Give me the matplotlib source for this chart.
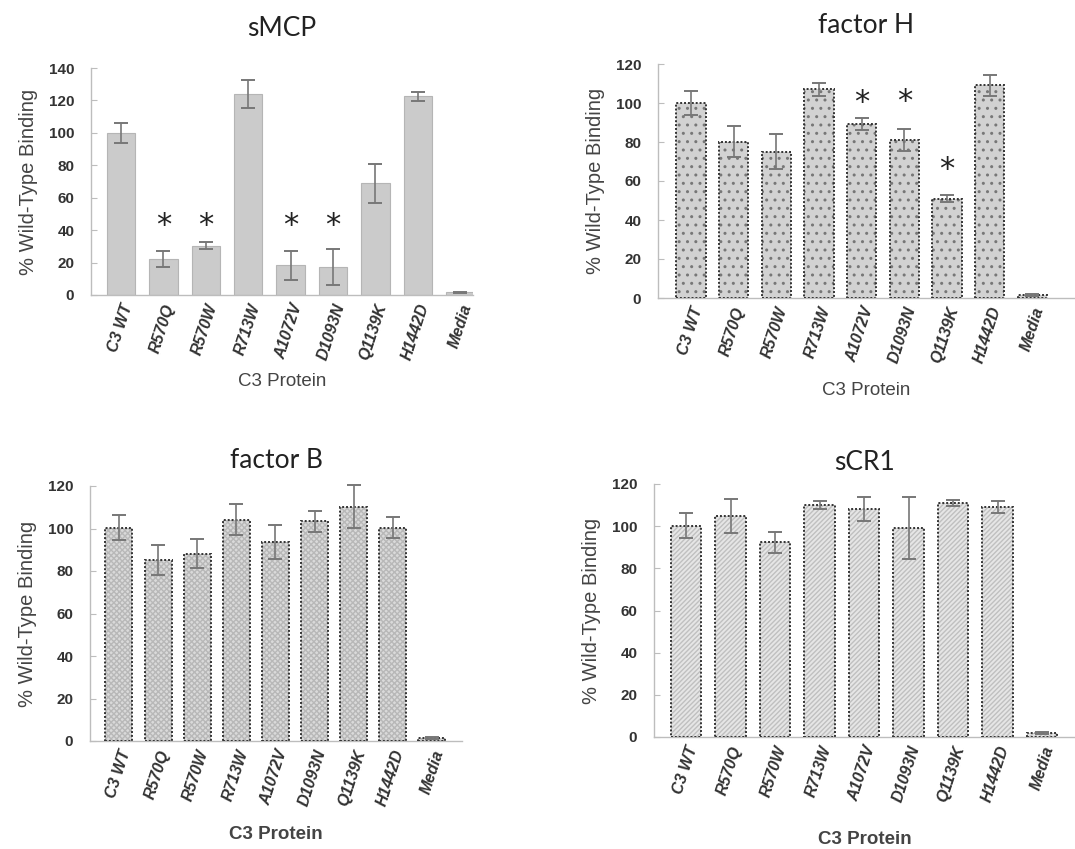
import numpy as np
import matplotlib
matplotlib.use("Agg")
import matplotlib.pyplot as plt

# data
proteins = ["C3 WT", "R570Q", "R570W", "R713W", "A1072V", "D1093N", "Q1139K", "H1442D", "Media"]

smcp_val = [100, 22.4, 30.4, 123.8, 18.3, 17.3, 69, 122.5, 1.6]
smcp_err = [6, 5, 2, 8.5, 9, 11, 12, 3, 0.5]
smcp_star = [1, 2, 4, 5]

fh_val = [100, 80.2, 75, 107, 89.3, 81, 51, 109, 1.7]
fh_err = [6, 8, 9, 3.5, 3, 5.5, 2, 5.5, 0.5]
fh_star = [4, 5, 6]

fb_val = [100.4, 85.3, 88.2, 104.2, 93.5, 103.4, 110.3, 100.4, 1.6]
fb_err = [6, 7, 7, 7.3, 8, 5, 10, 5, 0.5]

cr1_val = [100.2, 104.8, 92.3, 110, 108.1, 99.2, 111, 109, 1.9]
cr1_err = [6, 8, 5, 1.8, 5.8, 14.7, 1.6, 2.8, 0.5]

W, H = 1075, 849
fig = plt.figure(figsize=(W / 100, H / 100), dpi=100)

tick_font = "Liberation Sans"
title_font = "Lato"


def panel(px, title, vals, errs, ymax, xlim, hatch=None, face="#cbcbcb",
          hatch_col="#888888", stars=None, star_y=None, bold_xlabel=False,
          title_pad=18, xlab_pad=12):
    # px = (left, top, right, bottom) in pixels of the figure
    l, t, r, b = px
    ax = fig.add_axes([l / W, 1 - b / H, (r - l) / W, (b - t) / H])
    x = np.arange(len(vals))
    if hatch is None:
        ax.bar(x, vals, width=0.67, color=face, edgecolor="#b5b5b5", linewidth=0.8, zorder=2)
    else:
        ax.bar(x, vals, width=0.69, color=face, linewidth=0, zorder=2)
        ax.bar(x, vals, width=0.69, color="none", edgecolor=hatch_col, hatch=hatch,
               linewidth=0, zorder=3)
        ax.bar(x, vals, width=0.69, color="none", edgecolor="#333333",
               linewidth=1.4, linestyle=(0, (1, 1)), zorder=4)
    eb = ax.errorbar(x, vals, yerr=errs, fmt="none", ecolor="#777777", elinewidth=1.2,
                     capsize=5, capthick=1.4, zorder=5)
    for c in eb[1]:
        c.set_color("#222222")
        c.set_clip_on(False)
    for c in eb[2]:
        c.set_clip_on(False)
    if stars:
        for i, sy in zip(stars, star_y):
            ax.text(i, sy, "*", ha="center", va="center", fontsize=22,
                    family="DejaVu Sans", color="#222222")
    ax.set_xlim(*xlim)
    ax.set_ylim(0, ymax)
    ax.set_yticks(np.arange(0, ymax + 1, 20))
    for s in ["top", "right"]:
        ax.spines[s].set_visible(False)
    for s in ["left", "bottom"]:
        ax.spines[s].set_color("#bdbdbd")
        ax.spines[s].set_linewidth(1.0)
    ax.tick_params(axis="y", direction="in", length=4, color="#bdbdbd", pad=12,
                   labelsize=11)
    ax.tick_params(axis="x", length=0, pad=5, labelsize=11.5)
    ax.set_xticks(x)
    ax.set_xticklabels(proteins, rotation=72, ha="right", va="top",
                       rotation_mode="anchor", family=tick_font, style="italic",
                       fontweight="bold", color="#333333")
    for lab in ax.get_yticklabels():
        lab.set_family(tick_font)
        lab.set_fontweight("bold")
        lab.set_color("#333333")
    ax.set_ylabel("% Wild-Type Binding", family=tick_font, fontsize=14.5,
                  color="#444444", labelpad=8)
    ax.set_xlabel("C3 Protein", family=tick_font, fontsize=13.5, color="#444444",
                  fontweight="bold" if bold_xlabel else "normal", labelpad=xlab_pad)
    ax.set_title(title, family=title_font, fontsize=19, color="#222222", pad=title_pad)
    return ax


panel((91, 68, 473, 295), "sMCP", smcp_val, smcp_err, 140, (-0.71, 8.3),
      stars=smcp_star, star_y=[43, 43, 43, 43], title_pad=23, xlab_pad=8)
panel((658, 64, 1075, 298), "factor H", fh_val, fh_err, 120, (-0.77, 9.0),
      hatch="..", face="#d2d2d2", hatch_col="#777777",
      stars=fh_star, star_y=[100.5, 101, 66], title_pad=22)
panel((90, 486, 462, 741), "factor B", fb_val, fb_err, 120, (-0.74, 8.77),
      hatch="xxxxxx", face="#dadada", hatch_col="#b8b8b8", bold_xlabel=True,
      title_pad=13, xlab_pad=13)
panel((654, 484, 1075, 737), "sCR1", cr1_val, cr1_err, 120, (-0.72, 8.74),
      hatch="///////", face="#e6e6e6", hatch_col="#c0c0c0", bold_xlabel=True,
      title_pad=10, xlab_pad=19)

fig.savefig("out.png", dpi=100)
